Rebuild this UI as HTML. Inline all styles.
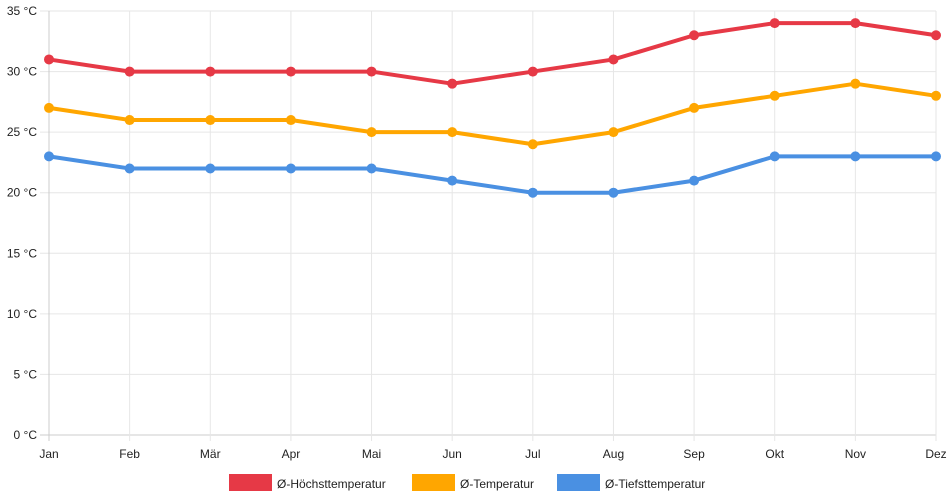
<!DOCTYPE html>
<html><head><meta charset="utf-8"><style>
body{margin:0;background:#fff;}
svg{display:block;font-family:"Liberation Sans",sans-serif;}
</style></head><body>
<svg id="c" width="952" height="500"></svg>
<script>
const months=["Jan","Feb","Mär","Apr","Mai","Jun","Jul","Aug","Sep","Okt","Nov","Dez"];
const highs=[31,30,30,30,30,29,30,31,33,34,34,33];
const means=[27,26,26,26,25,25,24,25,27,28,29,28];
const lows=[23,22,22,22,22,21,20,20,21,23,23,23];
const yTicks=[0,5,10,15,20,25,30,35];
const seriesNames=["Ø-Höchsttemperatur","Ø-Temperatur","Ø-Tiefsttemperatur"];
const NS="http://www.w3.org/2000/svg";
const svg=document.getElementById('c');
const X0=49,X1=936,Y0=435,Y1=11,YMAX=35;
const x=i=>X0+i*(X1-X0)/(months.length-1);
const y=v=>Y0-v*(Y0-Y1)/YMAX;
function el(t,a,p){const e=document.createElementNS(NS,t);for(const k in a)e.setAttribute(k,a[k]);(p||svg).appendChild(e);return e;}
const grid=el('g',{});


yTicks.forEach(v=>{
  const l=el('line',{x1:40,x2:X1,y1:y(v),y2:y(v),stroke:v===0?'#ccc':'#e6e6e6','stroke-width':1},grid);
  
  
  const t=el('text',{x:37,y:y(v)+4,'text-anchor':'end','font-size':12,fill:'#222'},grid);
  t.textContent=v+' °C';
  
  
});
months.forEach((m,i)=>{
  const l=el('line',{x1:x(i),x2:x(i),y1:Y1,y2:Y0+6,stroke:i===0?'#ccc':'#e6e6e6','stroke-width':1},grid);
  
  
  const t=el('text',{x:x(i),y:458,'text-anchor':'middle','font-size':12,fill:'#222'},grid);
  t.textContent=m;
  
  
});
const colors=["#e63946","#ffa600","#4a90e2"];
[highs,means,lows].forEach((d,s)=>{
  const g=el('g',{});
  
  
  const p=el('polyline',{points:d.map((v,i)=>x(i)+','+y(v)).join(' '),fill:'none',stroke:colors[s],'stroke-width':4,'stroke-linejoin':'round'},g);
  
  
  d.forEach((v,i)=>{
    const c=el('circle',{cx:x(i),cy:y(v),r:5,fill:colors[s]},g);
    
    
  });
});
const legX=[229,412,557];
seriesNames.forEach((n,s)=>{
  const g=el('g',{});
  
  
  el('rect',{x:legX[s],y:474,width:43,height:17,fill:colors[s]},g);
  const t=el('text',{x:legX[s]+48,y:488,'font-size':12,fill:'#222'},g);
  t.textContent=n;
});
</script>
</body></html>
